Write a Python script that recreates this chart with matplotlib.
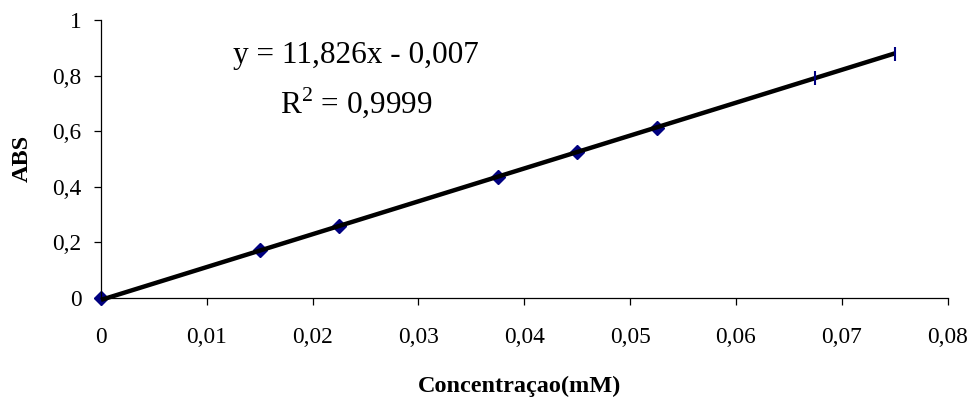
import numpy as np
import matplotlib
matplotlib.use("Agg")
import matplotlib.pyplot as plt
from matplotlib.ticker import FuncFormatter

# concentration (mM) and absorbance
conc = [0, 0.015, 0.0225, 0.0375, 0.045, 0.0525]
abs_ = [0, 0.173, 0.259, 0.435, 0.525, 0.612]
conc_tick = [0.0675, 0.075]
abs_tick = [0.791, 0.878]

slope = 11.826
intercept = -0.007
eq_text = "y = 11,826x - 0,007"
r2_text = "R$^2$ = 0,9999"

xticks = [0, 0.01, 0.02, 0.03, 0.04, 0.05, 0.06, 0.07, 0.08]
yticks = [0, 0.2, 0.4, 0.6, 0.8, 1]

plt.rcParams['font.family'] = ['Liberation Serif', 'DejaVu Serif']
plt.rcParams['mathtext.fontset'] = 'custom'
plt.rcParams['mathtext.rm'] = 'Liberation Serif'

fig = plt.figure(figsize=(9.68, 3.98), dpi=100)
ax = fig.add_axes([0.1043, 0.2513, 0.8747, 0.6984])

xl = np.array([0, max(conc_tick)])
ax.plot(xl, slope * xl + intercept, color='black', lw=3.2, zorder=3,
        solid_capstyle='butt', clip_on=False)
ax.plot(conc, abs_, ls='none', marker='D', ms=7.5, color='#000080',
        zorder=2, clip_on=False)
ax.plot(conc_tick, abs_tick, ls='none', marker='|', ms=10, mew=1.5,
        color='#000080', zorder=4, clip_on=False)

ax.set_xlim(0, 0.08)
ax.set_ylim(0, 1)
ax.set_xticks(xticks)
ax.set_yticks(yticks)
fmt = FuncFormatter(lambda v, p: ('%g' % round(v, 4)).replace('.', ','))
ax.xaxis.set_major_formatter(fmt)
ax.yaxis.set_major_formatter(fmt)

for s in ['top', 'right']:
    ax.spines[s].set_visible(False)
for s in ['left', 'bottom']:
    ax.spines[s].set_linewidth(0.9)
ax.tick_params(axis='x', direction='out', length=5, width=0.9, pad=16, labelsize=16.8)
ax.tick_params(axis='y', direction='out', length=5, width=0.9, pad=9, labelsize=16.8)

fig.text(520 / 968, 1 - 392 / 398, 'Concentraçao(mM)', fontsize=17.5,
         fontweight='bold', ha='center', va='baseline')
fig.text(22.5 / 968, 1 - 158 / 398, 'ABS', fontsize=17.5, fontweight='bold',
         rotation=90, ha='center', va='center')

ax.text(0.0241, 0.845, eq_text, fontsize=22.5, ha='center', va='baseline')
ax.text(0.0241, 0.665, r2_text, fontsize=22.5, ha='center', va='baseline')

fig.savefig('out.png', dpi=100)
